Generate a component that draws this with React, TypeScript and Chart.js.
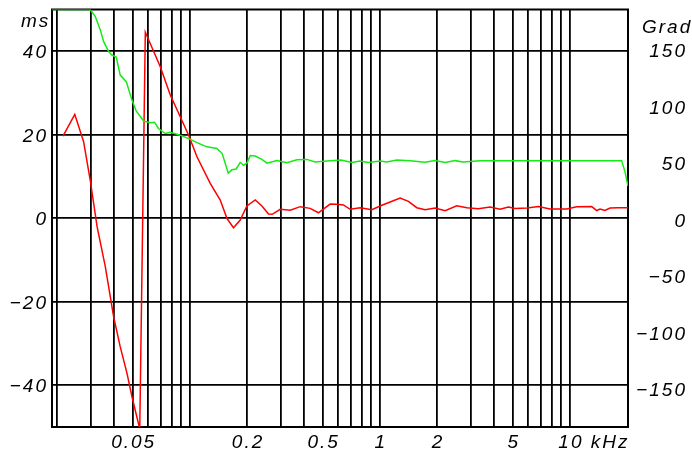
import React, { useEffect, useRef } from "react";
import { Chart, registerables } from "chart.js";
Chart.register(...registerables);

// Phase (Grad) – red, right axis
const freqRed = [0.0215, 0.0248, 0.0276, 0.0299, 0.0325, 0.0359, 0.0397, 0.0430, 0.0467, 0.0496, 0.0545, 0.0583, 0.0699, 0.0789, 0.0890, 0.0984, 0.1090, 0.1280, 0.1445, 0.1567, 0.1697, 0.1841, 0.1996, 0.2208, 0.2394, 0.2594, 0.2712, 0.2988, 0.3374, 0.3806, 0.4296, 0.4750, 0.5474, 0.5937, 0.6431, 0.6972, 0.7872, 0.9071, 1.024, 1.132, 1.278, 1.413, 1.564, 1.730, 1.952, 2.204, 2.538, 2.866, 3.298, 3.800, 4.290, 4.743, 5.144, 5.948, 6.820, 7.858, 9.620, 10.86, 13.02, 13.83, 14.40, 15.29, 16.25, 17.90, 20.21];
const phaseRed = [75.2, 94.4, 70.2, 36.3, -5.0, -40.4, -84.7, -111.2, -134.8, -155.5, -184, 167.0, 136.5, 111.5, 92.3, 76.1, 56.9, 33.4, 18.6, 2.4, -5.9, 0.9, 13.3, 18.6, 13.3, 6.2, 5.9, 10.4, 9.5, 12.7, 11.2, 7.3, 15.0, 14.8, 14.2, 10.4, 11.8, 10.0, 13.9, 16.8, 20.4, 17.4, 11.8, 10.0, 11.5, 9.1, 13.5, 11.8, 10.9, 12.4, 10.4, 12.4, 11.1, 11.5, 12.8, 10.6, 10.6, 12.7, 12.8, 9.3, 10.6, 9.3, 11.5, 11.8, 11.8];

// Group delay (ms) – green, left axis
const freqGreen = [0.01882, 0.0299, 0.0318, 0.0338, 0.0352, 0.0374, 0.0389, 0.0410, 0.0430, 0.0463, 0.0496, 0.0522, 0.0571, 0.0619, 0.0652, 0.0684, 0.0742, 0.0789, 0.0890, 0.1005, 0.1090, 0.1230, 0.1388, 0.1480, 0.1592, 0.1665, 0.1754, 0.1841, 0.1916, 0.1996, 0.2078, 0.2208, 0.2394, 0.2544, 0.2871, 0.3240, 0.3657, 0.4127, 0.4565, 0.5474, 0.6254, 0.7118, 0.7872, 0.8672, 1.003, 1.088, 1.228, 1.442, 1.730, 1.952, 2.204, 2.488, 2.740, 3.366, 4.290, 7.858, 14.40, 18.72, 19.49, 20.21];
const delayGreen = [50, 50, 48.3, 45.1, 42.3, 39.9, 39.1, 38.6, 34.3, 32.7, 28.3, 25.7, 23.3, 22.9, 23.0, 21.5, 20.3, 20.6, 19.9, 18.9, 18.1, 17.1, 16.7, 15.5, 10.8, 11.6, 11.8, 13.4, 12.7, 13.2, 15.0, 14.9, 14.1, 13.2, 13.8, 13.3, 14.0, 14.1, 13.5, 13.8, 13.95, 13.35, 13.7, 13.35, 13.7, 13.5, 13.95, 13.8, 13.4, 13.8, 13.35, 13.8, 13.5, 13.8, 13.8, 13.8, 13.8, 13.8, 11.1, 7.7];

const xGridTicks = [0.02, 0.03, 0.04, 0.05, 0.06, 0.07, 0.08, 0.09, 0.1, 0.2, 0.3, 0.4, 0.5, 0.6, 0.7, 0.8, 0.9, 1, 2, 3, 4, 5, 6, 7, 8, 9, 10];
const xLabelValues = [0.05, 0.2, 0.5, 1, 2, 5, 10];
const xLabelTexts = ["0.05", "0.2", "0.5", "1", "2", "5", "10 kHz"];
const msTicks = [-40, -20, 0, 20, 40];
const msLabels = ["\u221240", "\u221220", "0", "20", "40"];
const gradTicks = [-150, -100, -50, 0, 50, 100, 150];
const gradLabels = ["\u2212150", "\u2212100", "\u221250", "0", "50", "100", "150"];

const FONT = 'italic 19px "Liberation Sans", Arial, sans-serif';

const framePlugin = {
  id: "frame",
  beforeDatasetsDraw(chart: any) {
    const { ctx, chartArea } = chart;
    const { left, top, right, bottom } = chartArea;
    ctx.save();
    ctx.strokeStyle = "#000";
    ctx.lineWidth = 2;
    ctx.strokeRect(left, top, right - left, bottom - top);
    ctx.restore();
  },
  afterDraw(chart: any) {
    const ctx = chart.ctx;
    const xs = chart.scales.x;
    const ys = chart.scales.y;
    const y2 = chart.scales.y2;
    ctx.save();
    ctx.fillStyle = "#000";
    ctx.font = FONT;
    (ctx as any).letterSpacing = "2px";
    ctx.textBaseline = "alphabetic";
    ctx.textAlign = "left";
    xLabelValues.forEach((v, i) => {
      const px = xs.getPixelForValue(v);
      const txt = xLabelTexts[i];
      const head = txt.split(" ")[0];
      const w = ctx.measureText(head).width - 2;
      ctx.fillText(txt, px - w / 2, 448);
    });
    ctx.textBaseline = "middle";
    ctx.textAlign = "right";
    msTicks.forEach((v, i) => {
      ctx.fillText(msLabels[i], 48, ys.getPixelForValue(v) + 1.5);
    });
    gradTicks.forEach((v, i) => {
      ctx.fillText(gradLabels[i], 687, y2.getPixelForValue(v) + 0.5);
    });
    ctx.textBaseline = "alphabetic";
    ctx.textAlign = "left";
    ctx.fillText("ms", 21, 27);
    ctx.fillText("Grad", 642, 33);
    ctx.restore();
  },
};

export default function App() {
  const ref = useRef<HTMLCanvasElement>(null);
  useEffect(() => {
    const chart = new Chart(ref.current as HTMLCanvasElement, {
      type: "line",
      data: {
        datasets: [
          {
            label: "Gruppenlaufzeit",
            data: freqGreen.map((f, i) => ({ x: f, y: delayGreen[i] })),
            borderColor: "rgb(20,235,20)",
            borderWidth: 1.5,
            pointRadius: 0,
            tension: 0,
            yAxisID: "y",
          },
          {
            label: "Phase",
            data: freqRed.map((f, i) => ({ x: f, y: phaseRed[i] })),
            borderColor: "rgb(255,0,0)",
            borderWidth: 1.5,
            pointRadius: 0,
            tension: 0,
            yAxisID: "y2",
          },
        ],
      },
      options: {
        responsive: false,
        animation: false,
        devicePixelRatio: 1,
        layout: { padding: { top: 9.5, left: 0, right: 0, bottom: 0 } },
        plugins: { legend: { display: false }, tooltip: { enabled: false } },
        scales: {
          x: {
            type: "logarithmic",
            min: 0.01882,
            max: 20.21,
            border: { display: false },
            grid: { color: "#000", lineWidth: 1.8, drawTicks: false },
            ticks: { display: false },
            afterBuildTicks: (s: any) => {
              s.ticks = xGridTicks.map((v) => ({ value: v }));
            },
            afterFit: (s: any) => {
              s.height = 25;
            },
          },
          y: {
            type: "linear",
            position: "left",
            min: -50,
            max: 50,
            border: { display: false },
            grid: { color: "#000", lineWidth: 1.8, drawTicks: false },
            ticks: { display: false },
            afterBuildTicks: (s: any) => {
              s.ticks = msTicks.map((v) => ({ value: v }));
            },
            afterFit: (s: any) => {
              s.width = 52;
            },
          },
          y2: {
            type: "linear",
            position: "right",
            min: -182.3,
            max: 187.2,
            border: { display: false },
            grid: { display: false, drawTicks: false },
            ticks: { display: false },
            afterBuildTicks: (s: any) => {
              s.ticks = gradTicks.map((v) => ({ value: v }));
            },
            afterFit: (s: any) => {
              s.width = 64;
            },
          },
        },
      },
      plugins: [framePlugin],
    } as any);
    return () => chart.destroy();
  }, []);
  return (
    <div style={{ position: "fixed", left: 0, top: 0, width: 692, height: 452, background: "#fff" }}>
      <canvas ref={ref} width={692} height={452} style={{ display: "block" }} />
    </div>
  );
}
